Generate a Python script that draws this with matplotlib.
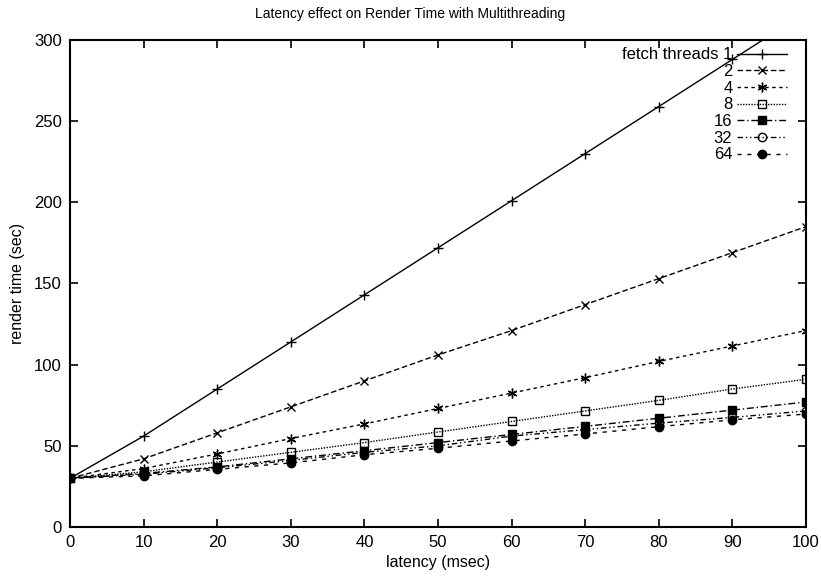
import matplotlib
matplotlib.use("Agg")
import matplotlib.pyplot as plt

plt.rcParams['font.family'] = ['Liberation Sans', 'DejaVu Sans']

latency = [0, 10, 20, 30, 40, 50, 60, 70, 80, 90, 100]
threads = ["1", "2", "4", "8", "16", "32", "64"]
render_1 = [30, 56, 85, 114, 143, 172, 201, 230, 259, 288, 317]
render_2 = [30, 42, 58, 74, 90, 106, 121, 137, 153, 169, 185]
render_4 = [30, 36, 45, 54.5, 63.5, 73, 82.5, 92, 102, 111.5, 121]
render_8 = [30, 34, 40, 46, 52, 58.5, 65, 71.5, 78, 85, 91]
render_16 = [30, 33, 37, 42, 47, 52, 57, 62, 67, 72, 77]
render_32 = [30, 32.5, 36.5, 41, 46, 50, 56, 60, 64, 67.5, 71.5]
render_64 = [30, 31.5, 35.5, 39.5, 44.5, 48.5, 53, 57.3, 61.8, 66, 69.6]

series = [render_1, render_2, render_4, render_8, render_16, render_32, render_64]
styles = [
    dict(ls='-', marker='+', mfc='black', ms=7),
    dict(ls=(0, (4, 2)), marker='x', mfc='black', ms=6),
    dict(ls=(0, (2.5, 2.5)), marker=(6, 2, 0), mfc='black', ms=7),
    dict(ls=(0, (1, 1)), marker='s', mfc='none', ms=6),
    dict(ls=(0, (5, 2, 1, 2)), marker='s', mfc='black', ms=6),
    dict(ls=(0, (4, 2, 1, 2, 1, 2)), marker='o', mfc='none', ms=6),
    dict(ls=(0, (3, 4)), marker='o', mfc='black', ms=6),
]

fig = plt.figure(figsize=(8.21, 5.79), dpi=100)
ax = fig.add_axes([0.0853, 0.0898, 0.8964, 0.8412])

for name, vals, st in zip(threads, series, styles):
    label = "fetch threads " + name if name == "1" else name
    ax.plot(latency, vals, color='black', lw=1.0, mec='black', mew=1.0,
            label=label, **st)

ax.set_xlim(0, 100)
ax.set_ylim(0, 300)
ax.set_xticks(range(0, 101, 10))
ax.set_yticks(range(0, 301, 50))
ax.tick_params(direction='in', length=6, width=1.2, top=True, right=True,
               labelsize=12, pad=6)
for sp in ax.spines.values():
    sp.set_linewidth(1.5)

ax.set_xlabel("latency (msec)", fontsize=11.5, labelpad=3)
ax.set_ylabel("render time (sec)", fontsize=11.5, labelpad=6)
fig.text(0.5, 0.975, "Latency effect on Render Time with Multithreading",
         fontsize=10, ha='center', va='center')

# gnuplot-style key: right-aligned labels followed by the line sample
ax.legend(loc='upper right', frameon=False, markerfirst=False,
          handlelength=3.0, handletextpad=0.3, labelspacing=0.1,
          fontsize=12, borderaxespad=0.15, borderpad=0.3,
          bbox_to_anchor=(0.985, 1.0))

fig.savefig("out.png", dpi=100)
